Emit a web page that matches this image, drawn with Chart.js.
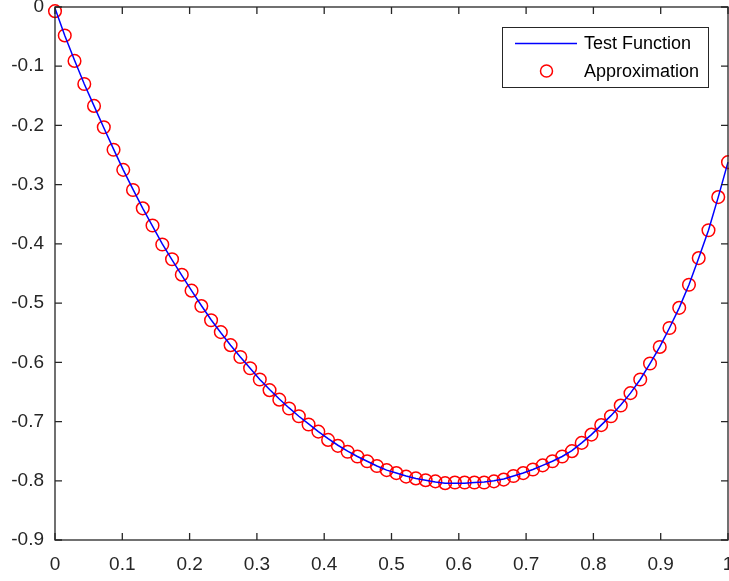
<!DOCTYPE html>
<html>
<head>
<meta charset="utf-8">
<script src="https://cdn.jsdelivr.net/npm/chart.js@4.4.1/dist/chart.umd.min.js"></script>
<style>
  body { margin: 0; background: #fff; }
  #wrap { width: 729px; height: 581px; }
</style>
</head>
<body>
<div id="wrap"><canvas id="plot" width="729" height="581"></canvas></div>
<script>
// sample positions (70 points from 0 to 1)
const xValues = [
  0, 0.0145, 0.0290, 0.0435, 0.0580, 0.0725, 0.0870, 0.1014, 0.1159, 0.1304,
  0.1449, 0.1594, 0.1739, 0.1884, 0.2029, 0.2174, 0.2319, 0.2464, 0.2609, 0.2754,
  0.2899, 0.3043, 0.3188, 0.3333, 0.3478, 0.3623, 0.3768, 0.3913, 0.4058, 0.4203,
  0.4348, 0.4493, 0.4638, 0.4783, 0.4928, 0.5072, 0.5217, 0.5362, 0.5507, 0.5652,
  0.5797, 0.5942, 0.6087, 0.6232, 0.6377, 0.6522, 0.6667, 0.6812, 0.6957, 0.7101,
  0.7246, 0.7391, 0.7536, 0.7681, 0.7826, 0.7971, 0.8116, 0.8261, 0.8406, 0.8551,
  0.8696, 0.8841, 0.8986, 0.9130, 0.9275, 0.9420, 0.9565, 0.9710, 0.9855, 1
];

const testFunction = [
  -0.002, -0.048, -0.090, -0.130, -0.167, -0.204, -0.240, -0.275, -0.308, -0.340,
  -0.370, -0.400, -0.427, -0.453, -0.479, -0.504, -0.528, -0.550, -0.571, -0.591,
  -0.610, -0.629, -0.646, -0.662, -0.677, -0.691, -0.704, -0.717, -0.729, -0.740,
  -0.750, -0.759, -0.767, -0.775, -0.782, -0.787, -0.792, -0.796, -0.799, -0.802,
  -0.804, -0.804, -0.804, -0.803, -0.802, -0.800, -0.797, -0.792, -0.787, -0.781,
  -0.774, -0.767, -0.759, -0.749, -0.736, -0.722, -0.706, -0.690, -0.672, -0.652,
  -0.629, -0.602, -0.574, -0.542, -0.508, -0.469, -0.424, -0.377, -0.321, -0.262
];

const approximation = [
  -0.007, -0.048, -0.091, -0.130, -0.167, -0.203, -0.241, -0.275, -0.309, -0.340,
  -0.369, -0.401, -0.426, -0.452, -0.479, -0.505, -0.529, -0.549, -0.571, -0.591,
  -0.610, -0.629, -0.647, -0.663, -0.678, -0.691, -0.705, -0.717, -0.731, -0.741,
  -0.751, -0.759, -0.767, -0.775, -0.782, -0.787, -0.793, -0.796, -0.799, -0.801,
  -0.804, -0.803, -0.803, -0.803, -0.803, -0.801, -0.798, -0.792, -0.787, -0.781,
  -0.774, -0.767, -0.759, -0.750, -0.736, -0.722, -0.706, -0.691, -0.673, -0.652,
  -0.629, -0.602, -0.574, -0.542, -0.508, -0.469, -0.424, -0.377, -0.321, -0.262
];

const legendLabels = ["Test Function", "Approximation"];

const axisColor = "#262626";
Chart.defaults.font.family = "'Liberation Sans', Arial, sans-serif";
Chart.defaults.color = axisColor;

const toPoints = (ys) => xValues.map((x, i) => ({ x: x, y: ys[i] }));

// box, inward ticks and legend like a matlab figure
const matlabBox = {
  id: "matlabBox",
  afterDraw(chart) {
    const ctx = chart.ctx;
    const area = chart.chartArea;
    const xs = chart.scales.x;
    const ys = chart.scales.y;
    const tick = 7;

    ctx.save();
    ctx.strokeStyle = axisColor;
    ctx.lineWidth = 1.3;
    ctx.strokeRect(area.left, area.top, area.right - area.left, area.bottom - area.top);

    ctx.beginPath();
    xs.ticks.forEach((t) => {
      const px = xs.getPixelForValue(t.value);
      ctx.moveTo(px, area.bottom);
      ctx.lineTo(px, area.bottom - tick);
      ctx.moveTo(px, area.top);
      ctx.lineTo(px, area.top + tick);
    });
    ys.ticks.forEach((t) => {
      const py = ys.getPixelForValue(t.value);
      ctx.moveTo(area.left, py);
      ctx.lineTo(area.left + tick, py);
      ctx.moveTo(area.right, py);
      ctx.lineTo(area.right - tick, py);
    });
    ctx.stroke();

    // legend
    const bx = 502.5, by = 27.5, bw = 206, bh = 60;
    ctx.fillStyle = "#fff";
    ctx.fillRect(bx, by, bw, bh);
    ctx.lineWidth = 1;
    ctx.strokeStyle = axisColor;
    ctx.strokeRect(bx, by, bw, bh);

    ctx.strokeStyle = "#0000ff";
    ctx.lineWidth = 1.5;
    ctx.beginPath();
    ctx.moveTo(515, 43.5);
    ctx.lineTo(577, 43.5);
    ctx.stroke();

    ctx.strokeStyle = "#ff0000";
    ctx.beginPath();
    ctx.arc(546.5, 71, 6, 0, Math.PI * 2);
    ctx.stroke();

    ctx.fillStyle = "#000";
    ctx.font = "18px 'Liberation Sans', Arial, sans-serif";
    ctx.textBaseline = "middle";
    ctx.textAlign = "left";
    ctx.fillText(legendLabels[0], 584, 44);
    ctx.fillText(legendLabels[1], 584, 72);
    ctx.restore();
  },
};

new Chart(document.getElementById("plot"), {
  type: "scatter",
  data: {
    datasets: [
      {
        label: legendLabels[0],
        data: toPoints(testFunction),
        showLine: true,
        borderColor: "#0000ff",
        borderWidth: 1.5,
        pointRadius: 0,
        tension: 0,
        clip: false,
      },
      {
        label: legendLabels[1],
        data: toPoints(approximation),
        showLine: false,
        pointStyle: "circle",
        pointRadius: 6.3,
        pointBorderWidth: 1.5,
        pointBorderColor: "#ff0000",
        pointBackgroundColor: "rgba(0,0,0,0)",
        clip: false,
      },
    ],
  },
  options: {
    responsive: false,
    animation: false,
    events: [],
    layout: {
      autoPadding: false,
      padding: { top: 7, right: 1, left: 0, bottom: 0 },
    },
    plugins: {
      legend: { display: false },
      title: { display: false },
      tooltip: { enabled: false },
    },
    scales: {
      x: {
        type: "linear",
        min: 0,
        max: 1,
        grid: { display: false, drawTicks: false },
        border: { display: false },
        ticks: {
          stepSize: 0.1,
          autoSkip: false,
          maxRotation: 0,
          padding: 13,
          color: axisColor,
          font: { size: 19 },
          callback: (v) => String(Math.round(v * 10) / 10),
        },
        afterFit(scale) {
          scale.height = 41;
          scale.paddingLeft = 0;
          scale.paddingRight = 0;
        },
      },
      y: {
        type: "linear",
        min: -0.9,
        max: 0,
        grid: { display: false, drawTicks: false },
        border: { display: false },
        ticks: {
          stepSize: 0.1,
          autoSkip: false,
          padding: 11,
          color: axisColor,
          font: { size: 19 },
          callback: (v) => String(Math.round(v * 10) / 10),
        },
        afterFit(scale) {
          scale.width = 55;
          scale.paddingTop = 0;
          scale.paddingBottom = 0;
        },
      },
    },
  },
  plugins: [matlabBox],
});
</script>
</body>
</html>
